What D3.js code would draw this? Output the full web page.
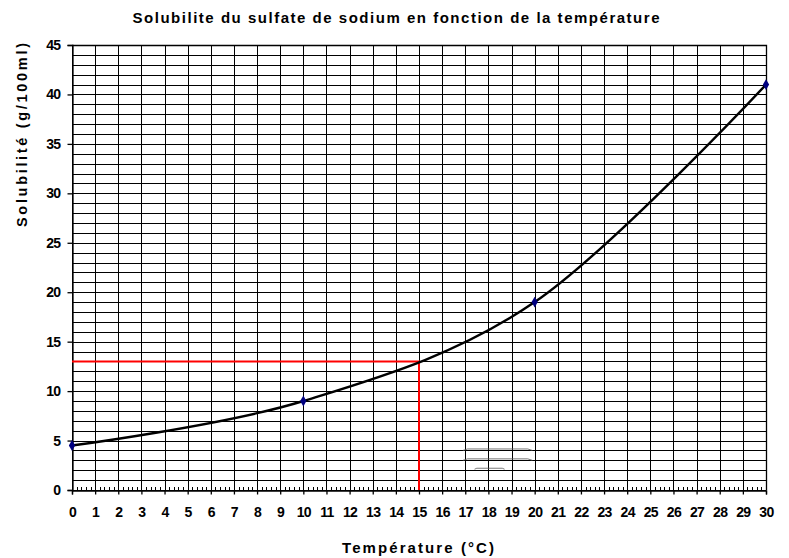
<!DOCTYPE html>
<html>
<head>
<meta charset="utf-8">
<script src="https://cdn.jsdelivr.net/npm/d3@7"></script>
<style>
  body { margin: 0; background: #fff; }
  svg { display: block; font-family: "Liberation Sans", Arial, sans-serif; }
</style>
</head>
<body>
<svg></svg>
<script>
var w = 789, h = 558;

// data
var temperatures = [0, 10, 20, 30];
var solubilities = [4.5, 9, 19, 41];
var readTemp = 15, readSol = 13;
var xTicks = d3.range(0, 31, 1);
var yTicks = [0, 5, 10, 15, 20, 25, 30, 35, 40, 45];
// faint leftover strokes near the bottom of the grid
var ghostLines = [
    [[16.9, 4], [17.1, 4.15], [19.7, 4.15], [19.9, 4]],
    [[16.9, 3], [17.1, 3.15], [19.7, 3.15], [19.9, 3]],
    [[17.4, 2.1], [17.5, 2.2], [18.6, 2.2], [18.7, 2.1]]
];

var svg = d3.select("svg").attr("width", w).attr("height", h);

var x = d3.scaleLinear().domain([0, 30]).range([72, 766]);
var y = d3.scaleLinear().domain([0, 45]).range([490, 45]);

var grid = svg.append("g").attr("shape-rendering", "crispEdges");

// vertical grid lines every degree
grid.selectAll(".vgrid")
    .data(xTicks)
    .enter().append("line")
    .attr("class", "vgrid")
    .attr("x1", d => Math.round(x(d)) + 0.5)
    .attr("x2", d => Math.round(x(d)) + 0.5)
    .attr("y1", y(45))
    .attr("y2", y(0))
    .attr("stroke", "#000")
    .attr("stroke-width", 1);

// horizontal grid lines every unit
grid.selectAll(".hgrid")
    .data(d3.range(0, 46, 1))
    .enter().append("line")
    .attr("class", "hgrid")
    .attr("y1", d => Math.round(y(d)) + 0.5)
    .attr("y2", d => Math.round(y(d)) + 0.5)
    .attr("x1", x(0))
    .attr("x2", x(30))
    .attr("stroke", "#000")
    .attr("stroke-width", 1);

// ghost strokes
var ghost = d3.line().x(d => x(d[0])).y(d => y(d[1]));
svg.selectAll(".ghost")
    .data(ghostLines)
    .enter().append("path")
    .attr("class", "ghost")
    .attr("d", ghost)
    .attr("fill", "none")
    .attr("stroke", "#555")
    .attr("stroke-width", 0.8);

// x axis
var xAxis = svg.append("g")
    .attr("transform", "translate(0," + (Math.round(y(0)) + 0.5) + ")")
    .call(d3.axisBottom(x).tickValues(xTicks).tickSize(4).tickPadding(13).tickFormat(d3.format("d")));
xAxis.select(".domain").attr("stroke", "#000").attr("stroke-width", 1.3);
xAxis.selectAll(".tick line").attr("stroke", "#000").attr("stroke-width", 1.3);

// minor ticks on the x axis, pointing inwards
svg.append("g")
    .selectAll("line")
    .data(d3.range(0, 30.01, 0.2).filter(d => Math.abs(d - Math.round(d)) > 0.01))
    .enter().append("line")
    .attr("x1", d => Math.round(x(d)) + 0.5)
    .attr("x2", d => Math.round(x(d)) + 0.5)
    .attr("y1", y(0))
    .attr("y2", y(0) - 3)
    .attr("stroke", "#000")
    .attr("stroke-width", 1)
    .attr("shape-rendering", "crispEdges");

// y axis
var yAxis = svg.append("g")
    .attr("transform", "translate(" + (Math.round(x(0)) + 0.5) + ",0)")
    .call(d3.axisLeft(y).tickValues(yTicks).tickSize(5).tickPadding(7).tickFormat(d3.format("d")));
yAxis.select(".domain").attr("stroke", "#000").attr("stroke-width", 1.3);
yAxis.selectAll(".tick line").attr("stroke", "#000").attr("stroke-width", 1.3);

svg.selectAll(".tick text")
    .attr("font-family", "Liberation Sans, Arial, sans-serif")
    .attr("font-size", 14)
    .attr("font-weight", "bold")
    .attr("letter-spacing", -0.6)
    .attr("fill", "#000");

// plot frame (top and right)
svg.append("path")
    .attr("d", "M" + x(0) + "," + (y(45) + 0.5) + "H" + (x(30) + 0.5) + "V" + y(0))
    .attr("fill", "none")
    .attr("stroke", "#000")
    .attr("stroke-width", 1.3);

// red reading lines
svg.append("path")
    .attr("d", "M" + x(0) + "," + y(readSol) + "H" + x(readTemp) + "V" + y(0))
    .attr("fill", "none")
    .attr("stroke", "#ff0000")
    .attr("stroke-width", 2);

// solubility curve
var pts = temperatures.map((t, i) => [t, solubilities[i]]);
var curve = d3.line()
    .x(d => x(d[0]))
    .y(d => y(d[1]))
    .curve(d3.curveCardinal.tension(0));
svg.append("path")
    .datum(pts)
    .attr("d", curve)
    .attr("fill", "none")
    .attr("stroke", "#000")
    .attr("stroke-width", 2.4);

svg.selectAll(".marker")
    .data(pts)
    .enter().append("path")
    .attr("class", "marker")
    .attr("transform", d => "translate(" + x(d[0]) + "," + y(d[1]) + ")")
    .attr("d", d3.symbol().type(d3.symbolDiamond).size(34))
    .attr("fill", "#000080");

// titles
svg.append("text")
    .attr("x", 396)
    .attr("y", 23)
    .attr("text-anchor", "middle")
    .attr("font-size", 15)
    .attr("font-weight", "bold")
    .attr("textLength", 527)
    .attr("lengthAdjust", "spacing")
    .text("Solubilite du sulfate de sodium en fonction de la température");

svg.append("text")
    .attr("transform", "translate(27,135) rotate(-90)")
    .attr("text-anchor", "middle")
    .attr("font-size", 14.5)
    .attr("font-weight", "bold")
    .attr("textLength", 184)
    .attr("lengthAdjust", "spacing")
    .text("Solubilité (g/100ml)");

svg.append("text")
    .attr("x", 418)
    .attr("y", 553)
    .attr("text-anchor", "middle")
    .attr("font-size", 15)
    .attr("font-weight", "bold")
    .attr("textLength", 152)
    .attr("lengthAdjust", "spacing")
    .text("Température (°C)");
</script>
</body>
</html>
